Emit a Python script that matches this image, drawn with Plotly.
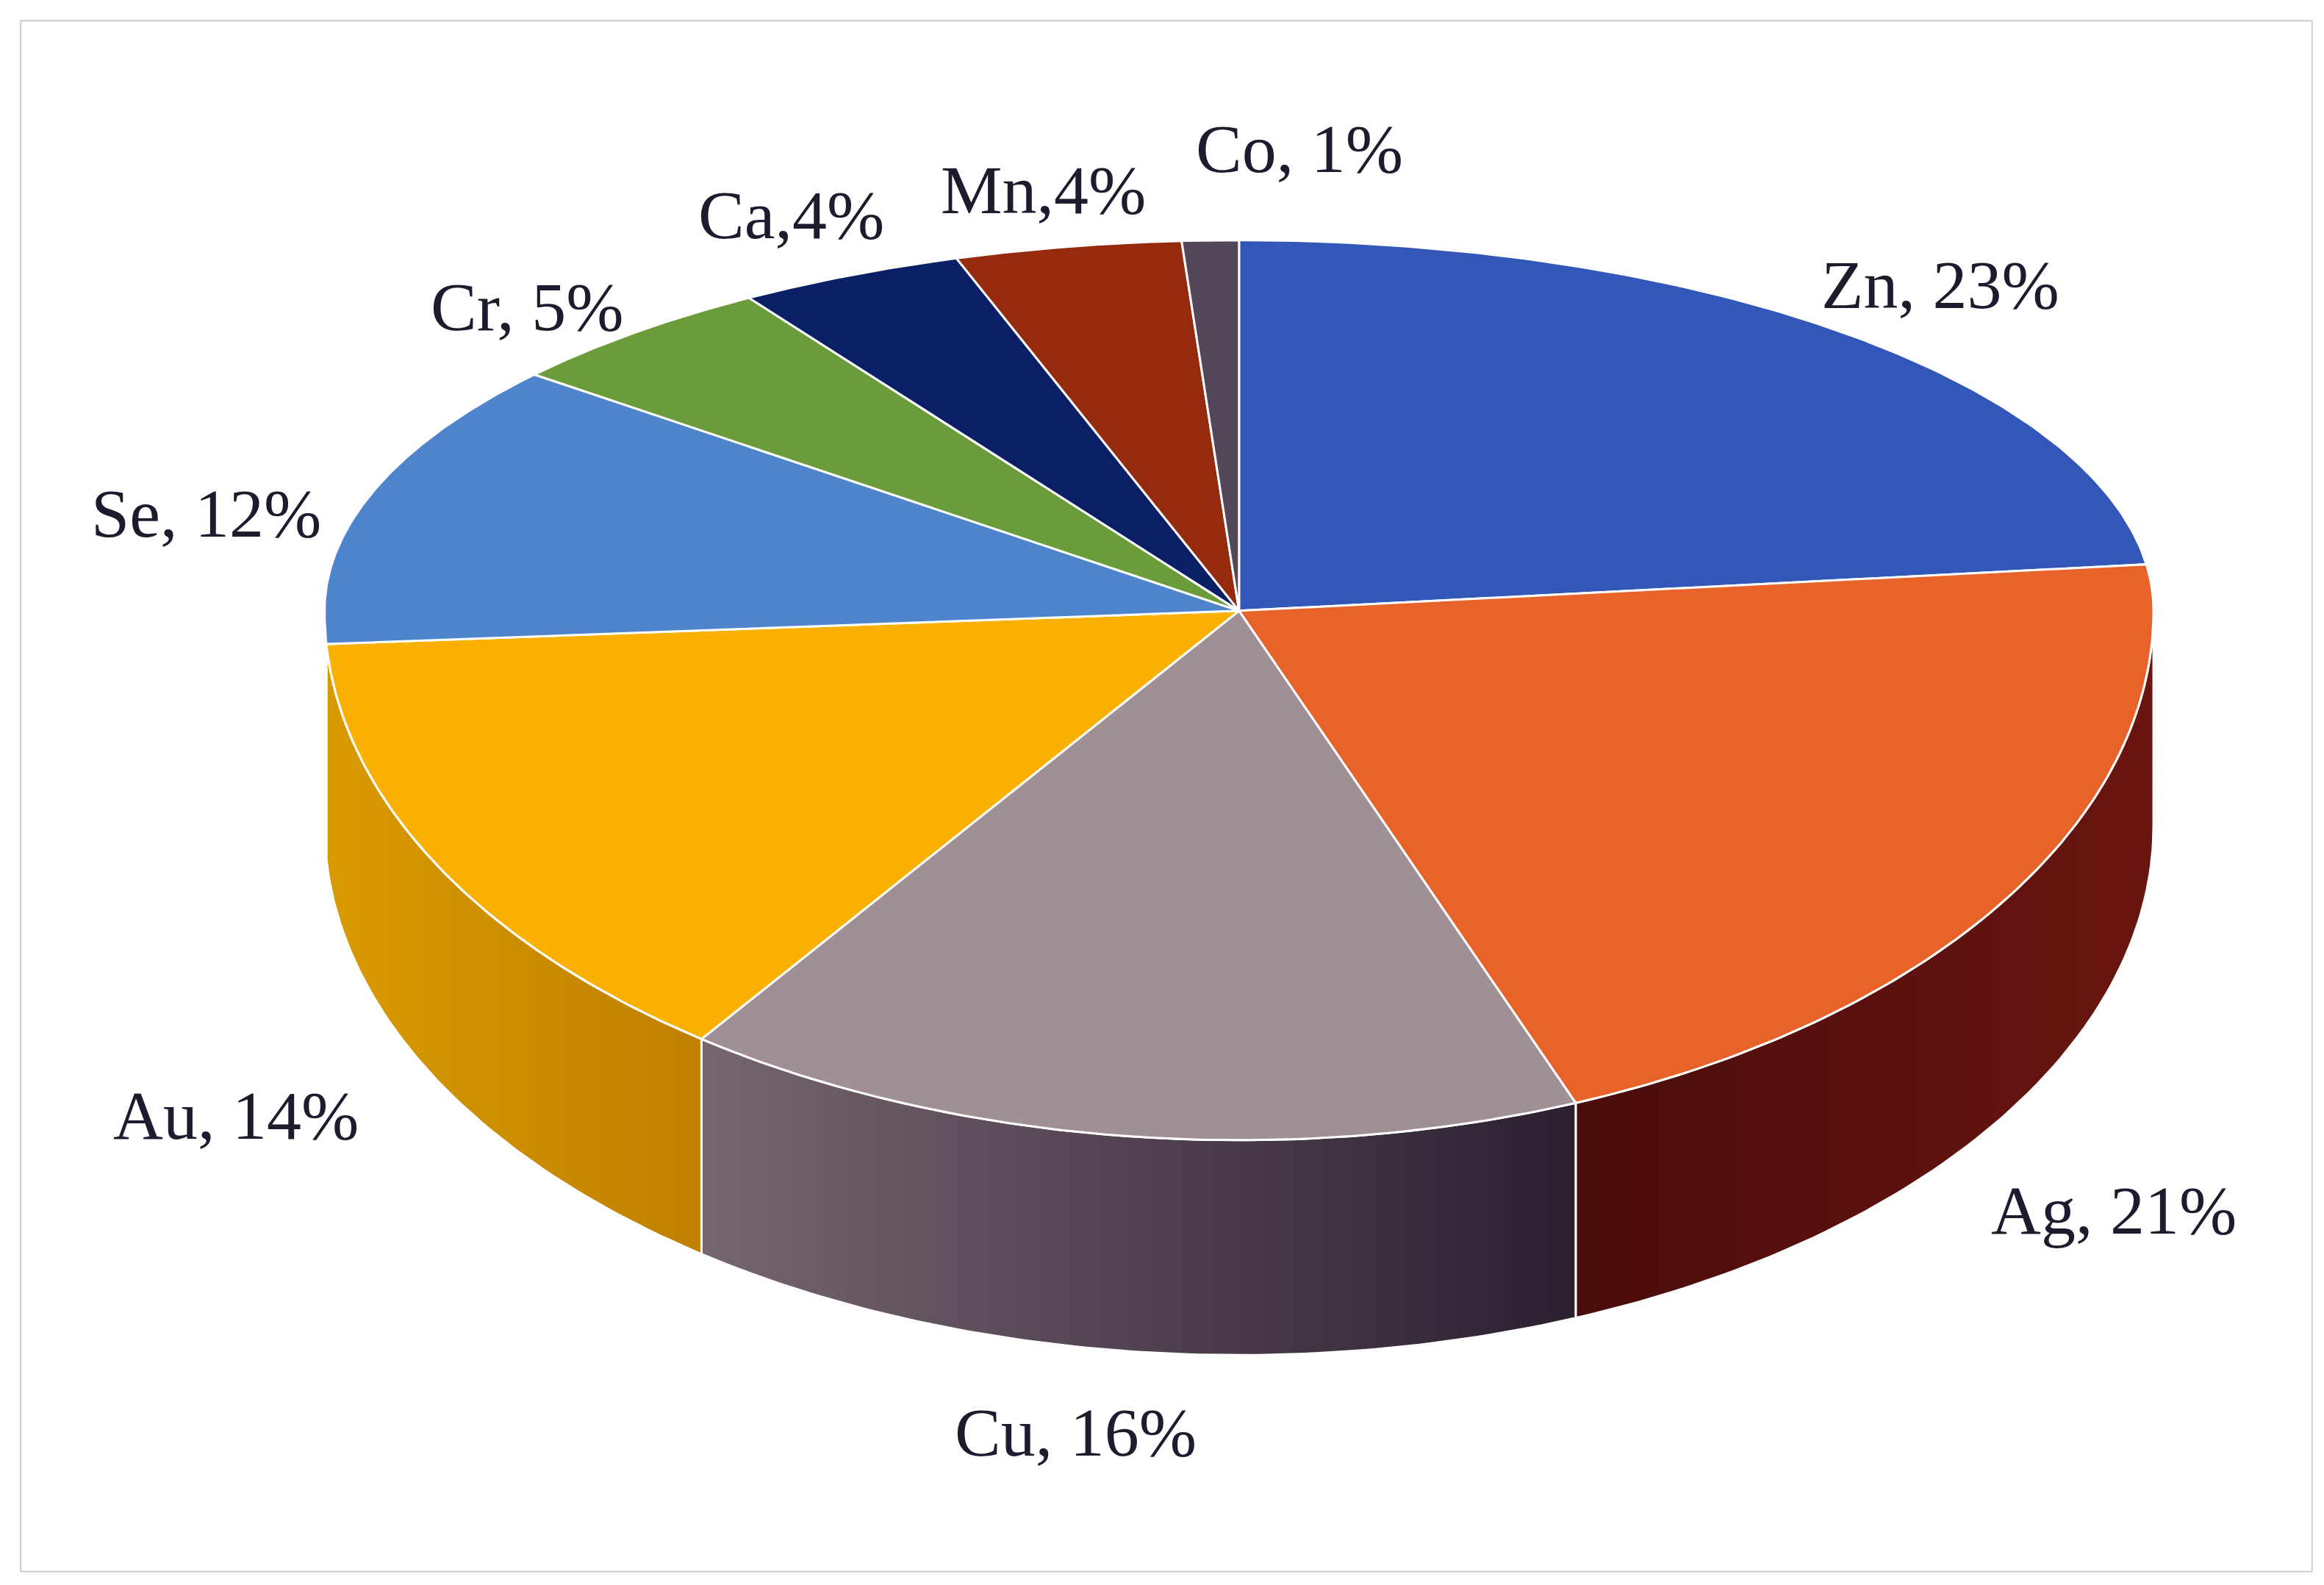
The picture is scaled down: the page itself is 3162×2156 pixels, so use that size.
import numpy as np
import plotly.graph_objects as go

# --------------------------------------------------
# DATA
# --------------------------------------------------

elements = ["Zn", "Ag", "Cu", "Au", "Se", "Cr", "Ca", "Mn", "Co"]
shares = [23, 21, 16, 14, 12, 5, 4, 4, 1]
label_texts = ["Zn, 23%", "Ag, 21%", "Cu, 16%", "Au, 14%", "Se, 12%",
               "Cr, 5%", "Ca,4%", "Mn,4%", "Co, 1%"]
top_colors = ["#3257B8", "#E8632A", "#A09095", "#F9B000", "#4E84CC",
              "#6A9C3C", "#0A1F66", "#952A0E", "#54475A"]
side_colors = [
    ["#243F88", "#243F88"],
    ["#6A1510", "#4A0C0C"],
    ["#776570", "#2B1F30"],
    ["#D99A00", "#BF8000"],
    ["#3A63A0", "#3A63A0"],
    ["#4E7530", "#4E7530"],
    ["#081850", "#081850"],
    ["#70200A", "#70200A"],
    ["#3F3444", "#3F3444"],
]

# --------------------------------------------------
# GEOMETRY (pixel-like coordinate space)
# --------------------------------------------------

W, H = 1568, 1069
cx, cy = 832, 408
rx, ry_top, ry_bot = 617, 250, 357
depth = 145


def edge(t_deg):
    t = np.radians(t_deg)
    ry = np.where(np.cos(t) > 0, ry_top, ry_bot)
    return cx + rx * np.sin(t), cy - ry * np.cos(t)


bounds = np.concatenate([[0], np.cumsum(shares)]) / sum(shares) * 360

fig = go.Figure()

# side walls (front half only)
for i in range(len(shares)):
    a0, a1 = max(bounds[i], 90), min(bounds[i + 1], 270)
    if a1 <= a0:
        continue
    ts = np.linspace(a0, a1, 80)
    x, y = edge(ts)
    xs = np.concatenate([x, x[::-1], [x[0]]])
    ys = np.concatenate([y, y[::-1] + depth, [y[0]]])
    c0, c1 = side_colors[i]
    # angle increases clockwise -> wall runs right to left
    fig.add_trace(go.Scatter(
        x=xs, y=ys, mode="lines", fill="toself",
        fillgradient=dict(type="horizontal",
                          colorscale=[[0, c0], [1, c1]] if i != 1 else [[0, c1], [1, c0]]),
        line=dict(color="white", width=3), hoverinfo="skip", showlegend=False
    ))

# top faces
for i in range(len(shares)):
    ts = np.linspace(bounds[i], bounds[i + 1], 120)
    x, y = edge(ts)
    xs = np.concatenate([[cx], x, [cx]])
    ys = np.concatenate([[cy], y, [cy]])
    fig.add_trace(go.Scatter(
        x=xs, y=ys, mode="lines", fill="toself", fillcolor=top_colors[i],
        line=dict(color="white", width=3), name=elements[i],
        hoverinfo="name", showlegend=False
    ))

label_pos = [(1305, 188), (1422, 812), (722, 962), (155, 748), (135, 342),
             (352, 203), (530, 141), (700, 124), (873, 96)]
for txt, (lx, ly) in zip(label_texts, label_pos):
    fig.add_annotation(x=lx, y=ly, text=txt, showarrow=False,
                       font=dict(family="Liberation Serif", size=94, color="#1F1A2E"))

fig.add_shape(type="rect", x0=10, y0=10, x1=W - 12, y1=H - 13,
              line=dict(color="#CCCCCC", width=2))

fig.update_layout(
    width=3162, height=2156,
    margin=dict(l=0, r=0, t=0, b=0),
    paper_bgcolor="white", plot_bgcolor="white",
    xaxis=dict(range=[0, W], visible=False, fixedrange=True),
    yaxis=dict(range=[H, 0], visible=False, fixedrange=True),
)

fig.write_html("out.html")
